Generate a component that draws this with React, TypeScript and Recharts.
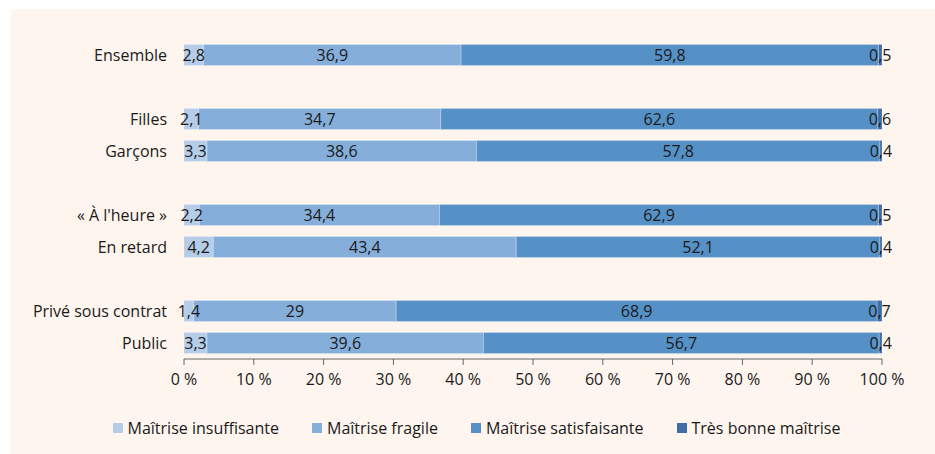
import React from "react";
import { BarChart, Bar, XAxis, YAxis, LabelList, Legend } from "recharts";

// Empty names are the spacer rows between groups
const CATEGORIES = [
  "Ensemble",
  "",
  "Filles",
  "Garçons",
  "",
  "« À l'heure »",
  "En retard",
  "",
  "Privé sous contrat",
  "Public",
];

const INSUFFISANTE = [2.8, null, 2.1, 3.3, null, 2.2, 4.2, null, 1.4, 3.3];
const FRAGILE = [36.9, null, 34.7, 38.6, null, 34.4, 43.4, null, 29, 39.6];
const SATISFAISANTE = [59.8, null, 62.6, 57.8, null, 62.9, 52.1, null, 68.9, 56.7];
const TRES_BONNE = [0.5, null, 0.6, 0.4, null, 0.5, 0.4, null, 0.7, 0.4];

const X_TICKS = [0, 10, 20, 30, 40, 50, 60, 70, 80, 90, 100];

const SERIES = [
  { key: "insuffisante", label: "Maîtrise insuffisante", color: "#b5cde9" },
  { key: "fragile", label: "Maîtrise fragile", color: "#85aedb" },
  { key: "satisfaisante", label: "Maîtrise satisfaisante", color: "#5591c7" },
  { key: "tresBonne", label: "Très bonne maîtrise", color: "#3f6ea6" },
];

const data = CATEGORIES.map((name, i) => ({
  id: `row${i}`,
  name,
  insuffisante: INSUFFISANTE[i],
  fragile: FRAGILE[i],
  satisfaisante: SATISFAISANTE[i],
  tresBonne: TRES_BONNE[i],
}));

const FONT = "'Open Sans', 'Noto Sans', sans-serif";
const TEXT = "#1a1a1a";
const FS = 16;

const fmt = (v: any) => (v == null ? "" : String(v).replace(".", ","));

function LegendContent() {
  return (
    <div
      style={{
        display: "flex",
        justifyContent: "center",
        gap: 33,
        fontFamily: FONT,
        fontSize: FS,
        color: TEXT,
        paddingLeft: 7,
      }}
    >
      {SERIES.map((s) => (
        <div key={s.key} style={{ display: "flex", alignItems: "center" }}>
          <span
            style={{ width: 10, height: 10, background: s.color, marginRight: 5, display: "inline-block" }}
          />
          <span>{s.label}</span>
        </div>
      ))}
    </div>
  );
}

export default function App() {
  return (
    <div style={{ position: "absolute", left: 0, top: 0, width: 935, height: 454, background: "#fff" }}>
      <div
        style={{
          position: "absolute",
          left: 11,
          top: 9,
          width: 924,
          height: 445,
          background: "#fef5ef",
        }}
      >
        <BarChart
          width={924}
          height={445}
          data={data}
          layout="vertical"
          margin={{ top: 30, right: 53, left: 0, bottom: 65 }}
          barCategoryGap="17%"
        >
          <XAxis
            type="number"
            domain={[0, 100]}
            allowDataOverflow
            ticks={X_TICKS}
            tickFormatter={(v) => `${v}\u00a0%`}
            tick={{ fontSize: FS, fill: TEXT, fontFamily: FONT }}
            stroke="#666"
            tickSize={6}
            tickMargin={9}
            height={30}
          />
          <YAxis
            type="category"
            dataKey="id"
            tickFormatter={(_, i) => CATEGORIES[i]}
            width={173}
            axisLine={false}
            tickLine={false}
            tickSize={0}
            tickMargin={17}
            tick={{ fontSize: FS, fill: TEXT, fontFamily: FONT }}
          />
          {SERIES.map((s) => (
            <Bar
              key={s.key}
              dataKey={s.key}
              name={s.label}
              stackId="a"
              fill={s.color}
              stroke="#ffffff"
              strokeOpacity={0.3}
              strokeWidth={0.8}
              isAnimationActive={false}
            >
              <LabelList
                dataKey={s.key}
                position="center"
                formatter={fmt}
                style={{ fontSize: FS, fill: TEXT, fontFamily: FONT }}
              />
            </Bar>
          ))}
          <Legend
            layout="horizontal"
            verticalAlign="middle"
            align="center"
            content={<LegendContent />}
            wrapperStyle={{ top: 408, left: 0, width: 924 }}
          />
        </BarChart>
      </div>
    </div>
  );
}
